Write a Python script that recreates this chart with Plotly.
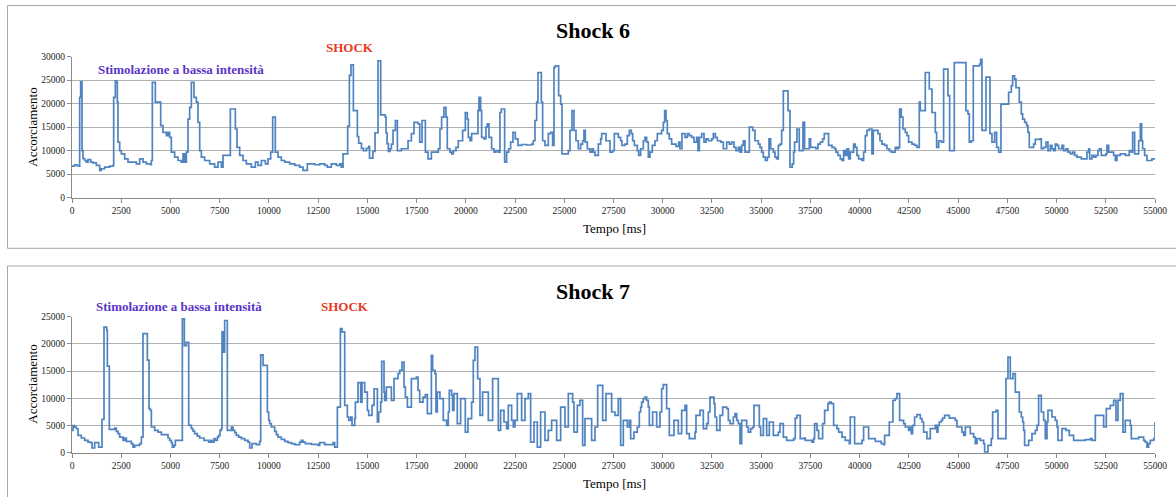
import plotly.graph_objects as go

# ---------------- data: Shock 6 (time in ms, shortening) ----------------
t6 = [0, 130, 250, 356, 389, 440, 508, 559, 643, 728,
      813, 948, 1067, 1236, 1405, 1490, 1659, 1913, 2083, 2116,
      2201, 2269, 2303, 2336, 2421, 2506, 2675, 2844, 3268, 3437,
      3606, 3776, 3995, 4030, 4080, 4233, 4504, 4622, 4791, 4876,
      4960, 5045, 5214, 5384, 5553, 5638, 5722, 5807, 5892, 5976,
      6061, 6196, 6315, 6400, 6484, 6569, 6738, 6992, 7246, 7416,
      7585, 7669, 8042, 8296, 8380, 8516, 8685, 8854, 9110, 9312,
      9447, 9616, 9820, 9955, 10090, 10192, 10327, 10463, 10632, 10801,
      11055, 11309, 11563, 11733, 11953, 12325, 12580, 12833, 12968, 13171,
      13425, 13595, 13679, 13764, 14000, 14086, 14170, 14289, 14492, 14560,
      14700, 14800, 14950, 15070, 15110, 15280, 15390, 15542, 15677, 15900,
      15948, 16000, 16067, 16150, 16220, 16304, 16423, 16524, 16727, 17066,
      17235, 17370, 17573, 17658, 17776, 17946, 18082, 18251,
      18602, 18687, 18772, 18890, 18992, 19059, 19195, 19279, 19364, 19500,
      19618, 19838, 19974, 20075, 20126, 20211, 20295, 20617, 20668, 20752,
      20803, 20922, 21023, 21091, 21176, 21311, 21430, 21531, 21650, 21734,
      21802, 21971, 22073, 22175, 22276, 22395, 22513, 22649, 22835, 23089,
      23343, 23427, 23512, 23597, 23664, 23834, 23901, 24020, 24189, 24308,
      24409, 24477, 24545, 24714, 24816, 24883, 25205, 25290, 25391, 25493,
      25594, 25713, 25831, 25933, 26000, 26068, 26170, 26305, 26407, 26475,
      26559, 26729, 26847, 26898, 27118, 27321, 27456, 27541, 27744, 27863,
      27930, 28083, 28201, 28303, 28405, 28472, 28557, 28709, 28777, 28879,
      29014, 29099, 29183, 29268, 29353, 29471, 29607, 29725, 29945, 30030,
      30098, 30166, 30233, 30335, 30453, 30673, 30809, 30876, 30978, 31130,
      31249, 31351, 31469, 31588, 31723, 31791, 31859, 31977, 32096, 32197,
      32316, 32485, 32570, 32672, 32773, 32942, 33077, 33247, 33382, 33501,
      33619, 33721, 33839, 33924, 34009, 34093, 34178, 34398, 34567, 34686,
      34855, 34940, 35024, 35109, 35211, 35312, 35397, 35481, 35617, 35702,
      35786, 35871, 35956, 36040, 36125, 36362, 36463, 36580, 36647,
      36697, 36816, 36934, 37121, 37205, 37442, 37510, 37781, 37883, 38001,
      38120, 38204, 38424, 38594, 38729, 38797, 38898, 39017, 39102, 39186,
      39271, 39355, 39440, 39525, 39694, 39779, 39863, 39948, 40117, 40202,
      40287, 40371, 40490, 40625, 40693, 40930, 41032, 41133, 41269, 41387,
      41506, 41607, 41810, 41895, 41980, 42030, 42115, 42200, 42318, 42403,
      42488, 42657, 42792, 42911, 43029, 43080, 43334, 43537, 43673, 43842,
      43910, 44011, 44147, 44265, 44485, 44570, 44807, 45399, 45501, 45569,
      45670, 45772, 46093, 46144, 46212, 46415, 46619, 46720, 46855, 46957,
      47058, 47177, 47566, 47702, 47770, 47871, 47939, 48108, 48210, 48278,
      48379, 48481, 48549, 48616, 48836, 48921, 49175, 49226, 49344, 49463,
      49564, 49683, 49768, 49852, 49937, 50022, 50106, 50275, 50360, 50479,
      50580, 50699, 50817, 50919, 51037, 51257, 51545, 51630, 51681, 51799,
      51901, 52002, 52104, 52172, 52273, 52510, 52561, 52646, 52900, 52985,
      53069, 53238, 53492, 53695, 53797, 53865, 53966, 54169, 54254, 54321,
      54372, 54474, 54592, 54846, 55000]

v6 = [6700, 7000, 6800, 6700, 21300, 24600, 10000, 8300, 7900, 7550,
      8100, 7550, 7400, 6850, 5800, 6150, 6500, 6700, 6850, 21300,
      24850, 24500, 20300, 11800, 10000, 9300, 8260, 7550, 7200, 8260,
      7550, 7200, 7000, 7900, 24500, 20300, 15300, 13900, 13200, 13900,
      12800, 9700, 8600, 7900, 7550, 9300, 7550, 9700, 16700, 19200,
      24500, 21300, 20300, 16000, 10000, 8600, 7900, 7200, 6500, 7550,
      6500, 9000, 18850, 14600, 10700, 9000, 7900, 7200, 6500, 7550,
      6850, 7900, 7200, 8260, 9700, 17100, 9700, 8600, 7900, 7550,
      7200, 6850, 6500, 5800, 7200, 7000, 7200, 6850, 6500, 7200,
      6850, 7200, 6500, 9300, 15200, 26000, 28200, 18500, 13000, 11600,
      10500, 10000, 10500, 10900, 8400, 9850, 13800, 29100, 17600, 17200,
      13800, 11500, 9850, 10400, 11400, 14300, 16400, 10000, 10400, 12100,
      13600, 16000, 15700, 11800, 16400, 9700, 8260, 9700,
      10400, 14600, 17100, 19200, 17100, 10400, 9700, 9300, 10000, 10700,
      12100, 14300, 18100, 16700, 12800, 12100, 13600, 18500, 21300, 18500,
      12800, 12500, 15000, 15700, 12800, 10400, 9700, 10000, 9700, 18100,
      18850, 7550, 9700, 10400, 11800, 13900, 12500, 11100, 11300, 11200,
      11400, 12100, 16400, 20300, 26600, 20300, 12100, 11100, 13600, 13900,
      11100, 27700, 28000, 21700, 19900, 9300, 10000, 14300, 18500, 14300,
      12100, 10400, 11400, 12100, 14300, 11800, 10400, 9700, 10400, 9700,
      9000, 11400, 12500, 13600, 12100, 9700, 10000, 13600, 12800, 12100,
      11100, 11400, 13200, 14300, 13600, 12100, 11100, 10000, 9000, 10400,
      12100, 12800, 11800, 8600, 9700, 11100, 12100, 13600, 14300, 16000,
      18500, 16400, 13600, 12500, 11400, 10900, 11800, 10400, 13600, 12800,
      13600, 13200, 12800, 11800, 12800, 10000, 12800, 13600, 11800, 12500,
      12100, 12500, 13600, 12800, 12100, 11800, 10400, 11800, 11400, 11800,
      10700, 10000, 10700, 9700, 11100, 12100, 9700, 15000, 14300, 12100,
      11400, 10700, 9700, 8600, 7900, 8600, 12500, 10400, 9700, 8600,
      8260, 11100, 11400, 14300, 22700, 18500, 6500, 7200, 9700,
      11800, 14600, 10000, 16000, 10400, 12500, 10700, 10400, 11400, 11800,
      12500, 13600, 11100, 10700, 10400, 9700, 9000, 8260, 7900, 10000,
      9000, 10400, 8260, 9700, 11400, 10700, 9000, 8260, 7900, 9700,
      13200, 14300, 14600, 9300, 14300, 13600, 12100, 11400, 11100, 10400,
      10000, 9700, 10700, 10400, 10700, 18850, 17100, 14600, 13900, 13200,
      11800, 11400, 11100, 10700, 20300, 18500, 26600, 23100, 18100, 13900,
      10700, 12100, 11800, 27300, 21700, 10000, 28700, 18500, 17800, 11800,
      12100, 28000, 28400, 29400, 14300, 25600, 13600, 11800, 13900, 10700,
      9700, 19900, 22400, 23800, 25900, 25200, 23400, 20300, 17800, 16700,
      16000, 15300, 13900, 10700, 11400, 12400, 12500, 10400, 10700, 11800,
      10000, 11100, 10400, 10000, 11400, 11100, 10400, 11100, 10000, 10400,
      9700, 9300, 9700, 9000, 8600, 8260, 9700, 10400, 8260, 9000,
      8600, 9000, 10000, 10400, 9000, 9300, 11100, 9700, 9000, 7900,
      9000, 9300, 9000, 10000, 9700, 13900, 9300, 12100, 15700, 12100,
      10400, 9000, 7900, 8260, 8260]

# ---------------- data: Shock 7 ----------------
t7 = [0, 51, 136, 220, 305, 474, 643, 813, 948, 1016,
      1151, 1355, 1524, 1625, 1761, 1795, 1896, 2167, 2252, 2337,
      2421, 2590, 2675, 2760, 3014, 3098, 3183, 3437, 3522, 3606,
      3826, 3911, 3979, 4030, 4199, 4368, 4537, 4876, 4960, 5045,
      5096, 5181, 5248, 5604, 5705, 5807, 5926, 6061, 6146, 6230,
      6366, 6484, 6704, 6941, 7043, 7111, 7212, 7280, 7382, 7449,
      7517, 7585, 7619, 7653, 7686, 7720, 7754, 7889, 8093, 8177,
      8262, 8346, 8465, 8600, 8770, 8939, 9024, 9142, 9362, 9532,
      9583, 9701, 9921, 9989, 10040, 10124, 10294, 10378, 10463, 10632,
      10801, 10970, 11140, 11309, 11563, 11648, 11733, 11851, 12156, 12495,
      12580, 12833, 13256, 13341, 13476, 13629, 13714, 13849, 13984, 14052,
      14153, 14221, 14357, 14391, 14526, 14661, 14729, 14865, 15000, 15068,
      15237, 15339, 15508, 15576, 15677, 15728, 15846, 15880, 15965, 16219,
      16355, 16558, 16642, 16761, 16862, 16930, 17032, 17235, 17489, 17573,
      17658, 17827, 17946, 18048, 18251,
      18314, 18433, 18484, 18551, 18687, 18856, 19026, 19110, 19161, 19279,
      19330, 19398, 19567, 19737, 19974, 20109, 20295, 20380, 20465, 20600,
      20719, 20854, 21142, 21362, 21650, 21768, 21938, 22073, 22158, 22328,
      22412, 22497, 22615, 22835, 23004, 23173, 23292, 23461, 23630, 23800,
      24020, 24189, 24358, 24612, 24816, 25036, 25205, 25425, 25493, 25662,
      25797, 25933, 26051, 26390, 26559, 26695, 26949, 27118, 27406, 27575,
      27744, 27863, 27998, 28201, 28303, 28371, 28540, 28709, 28811, 28879,
      28929, 29014, 29099, 29183, 29268, 29319, 29488, 29692, 29861, 29945,
      30030, 30199, 30335, 30572, 30792, 30961, 31130, 31215, 31351, 31639,
      31690, 31892, 32062, 32231, 32316, 32400, 32604, 32654, 32739, 32908,
      33044, 33247, 33331, 33416, 33585, 33670, 33755, 33839, 33924, 34009,
      34262, 34347, 34466, 34567, 34635, 34906, 34973, 35109, 35278, 35414,
      35617, 35871, 35956, 36125, 36294,
      36647, 36731, 36816, 36985, 37155, 37239, 37578, 37662, 37713, 37832,
      37916, 38120, 38221, 38390, 38458, 38560, 38678, 38848, 38932, 39102,
      39271, 39474, 39525, 39745, 40117, 40202, 40456, 40795, 41099, 41218,
      41269, 41506, 41692, 41810, 41895, 42030, 42233, 42318, 42488, 42572,
      42623, 42691, 42792, 42911, 43080, 43165, 43249, 43419, 43588, 43842,
      43927, 43977, 44045, 44147, 44214, 44316, 44553, 44773, 44858, 44942,
      45196, 45281, 45366, 45620, 45789, 45874, 45958, 46127, 46297, 46348,
      46517, 46686, 46754, 46923, 47025, 47431, 47533, 47651, 47787, 47906,
      48108, 48210, 48278, 48328, 48379, 48583, 48752, 48921, 49006, 49090,
      49226, 49344, 49429, 49514, 49564, 49768, 49937, 50022, 50072, 50275,
      50479, 50648, 50868, 51461, 51715, 51799, 51969, 52308, 52392, 52527,
      52730, 52900, 53019, 53120, 53238, 53374, 53492, 53746, 53797, 54169,
      54423, 54507, 54592, 54677, 54761, 54931, 55000]

v7 = [4100, 5000, 4700, 4400, 3200, 2700, 2270, 1960, 1840, 860,
      1840, 1040, 6130, 23100, 22500, 15900, 4300, 4530, 3920, 3490,
      2880, 2270, 2700, 2080, 1650, 1040, 1350, 1650, 2880, 21900,
      17000, 8090, 7780, 4720, 4100, 3800, 3310, 2700, 2270, 1840,
      1040, 1350, 2270, 24600, 19700, 20300, 5020, 4410, 3980, 3490,
      3060, 2700, 2270, 1960, 2270, 1960, 2570, 2270, 2880, 3190,
      4100, 4410, 22200, 18500, 22200, 18500, 24300, 4100, 4720, 4100,
      3680, 3190, 2880, 2570, 2270, 1960, 860, 1650, 1470, 2080,
      18000, 16050, 7480, 5940, 5330, 4720, 3920, 3310, 2880, 2450,
      2080, 1840, 1650, 1470, 1960, 2270, 1960, 1650, 1530, 1350,
      1840, 1470, 1840, 1040, 8390, 22800, 22200, 8700, 6560, 5940,
      6560, 5020, 6250, 9310, 12870, 9310, 12870, 11150, 7780, 6860,
      8700, 11760, 5640, 7480, 9310, 16790, 11150, 9620, 12070, 9620,
      13600, 14520, 15130, 16670, 12070, 10230, 8390, 13600, 13910, 11460,
      9310, 10230, 10660, 7170, 17890,
      15130, 14520, 7480, 11150, 9930, 5940, 5020, 7480, 11460, 10540,
      7780, 10850, 5330, 9930, 3800, 6250, 9310, 16970, 19420, 13600,
      6860, 11150, 5940, 13600, 4100, 7780, 5640, 4410, 8700, 5940,
      4720, 5940, 10850, 5940, 9930, 10850, 1960, 5640, 1040, 7480,
      2270, 4100, 5940, 2270, 8390, 4720, 10850, 9310, 3800, 8700,
      9620, 1350, 6250, 2270, 4720, 12380, 5940, 10850, 7480, 6860,
      9930, 1350, 5940, 4720, 5940, 2570, 3800, 4720, 7480, 8390,
      9310, 9930, 10230, 9620, 8390, 5020, 7480, 4720, 7480, 11760,
      12500, 8090, 3190, 5940, 3490, 7780, 8700, 3490, 2570, 3800,
      6860, 7780, 4410, 5330, 7480, 10230, 9010, 6560, 4100, 6860,
      8390, 8090, 5940, 5330, 6560, 7170, 5940, 5330, 1650, 5940,
      4720, 3800, 4410, 4720, 8700, 4720, 3190, 6250, 3190, 5640,
      3190, 3800, 5330, 2880, 2270,
      2570, 6370, 6860, 2570, 2700, 2270, 1960, 2570, 5330, 4100,
      2570, 5330, 7780, 9010, 9310, 9010, 5020, 4410, 3800, 2880,
      2270, 1650, 6560, 1650, 2270, 4720, 2570, 2080, 1650, 1470,
      3190, 5640, 9620, 9930, 10850, 5940, 5330, 4720, 4100, 4720,
      3490, 5020, 6560, 6990, 6250, 5640, 3800, 2570, 4410, 5020,
      3800, 5020, 5640, 5940, 6370, 6860, 6370, 6370, 5940, 4720,
      3800, 3190, 4720, 3490, 2880, 1650, 2570, 2270, 1650, 120,
      1350, 2570, 7480, 7780, 2570, 13600, 17580, 13600, 14520, 11150,
      7480, 6560, 5640, 4100, 1350, 2270, 3490, 4100, 5020, 10540,
      7480, 5940, 2570, 5640, 7780, 6560, 5940, 4720, 2270, 4410,
      4100, 3190, 2270, 2390, 2570, 2270, 6860, 6860, 4720, 8090,
      8700, 9620, 5940, 9620, 10850, 3800, 5940, 5020, 2570, 2880,
      2270, 1960, 1040, 1650, 2270, 2570, 5640]

x_range = [0, 55000]
y6_range = [0, 30000]
y7_range = [0, 25000]

titles = ["Shock 6", "Shock 7"]
label_stim = "Stimolazione a bassa intensità"
label_shock = "SHOCK"
x_title = "Tempo [ms]"
y_title = "Accorciamento"

# ---------------- styles ----------------
W, H = 1176, 497
BLUE = "#4f84c0"
GRID = "#b0b0b0"
AXIS = "#8a8a8a"
FRAME = "#a8a8a8"
PURPLE = "#5b35c8"
RED = "#e8391f"
SERIF = "Liberation Serif, Times New Roman, serif"


def px(x):
    return x / W


def py(y):
    return 1 - y / H


fig = go.Figure()
fig.add_trace(go.Scatter(x=t6, y=v6, mode="lines", xaxis="x", yaxis="y",
                         line=dict(color=BLUE, width=1.7, shape="hv"),
                         hoverinfo="skip"))
fig.add_trace(go.Scatter(x=t7, y=v7, mode="lines", xaxis="x2", yaxis="y2",
                         line=dict(color=BLUE, width=1.7, shape="hv"),
                         hoverinfo="skip"))

common_x = dict(range=x_range, tickmode="linear", tick0=0, dtick=2500,
                tickformat="d", showline=True, linecolor=AXIS, linewidth=1,
                ticks="outside", ticklen=4, tickcolor=AXIS, showgrid=False,
                zeroline=False, automargin=False,
                tickfont=dict(family=SERIF, size=9.5, color="#222222"),
                domain=[px(72), px(1155)])
common_y = dict(tickmode="linear", tick0=0, dtick=5000, tickformat="d",
                showline=True, linecolor=AXIS, linewidth=1, ticks="outside",
                ticklen=4, tickcolor=AXIS, showgrid=True, gridcolor=GRID,
                gridwidth=1, zeroline=False, automargin=False,
                tickfont=dict(family=SERIF, size=9.5, color="#222222"))

fig.update_layout(
    width=W, height=H, autosize=False,
    margin=dict(l=0, r=0, t=0, b=0, pad=0, autoexpand=False),
    paper_bgcolor="white", plot_bgcolor="white",
    showlegend=False,
    xaxis=dict(common_x, anchor="y"),
    yaxis=dict(common_y, range=y6_range, anchor="x",
               domain=[py(197.7), py(56.5)]),
    xaxis2=dict(common_x, anchor="y2"),
    yaxis2=dict(common_y, range=y7_range, anchor="x2",
                domain=[py(452.7), py(316.7)]),
)

# chart frames
fig.add_shape(type="rect", xref="paper", yref="paper",
              x0=px(7.5), x1=1.02, y0=py(248.3), y1=py(5.5),
              line=dict(color=FRAME, width=1), fillcolor="rgba(0,0,0,0)", layer="below")
fig.add_shape(type="rect", xref="paper", yref="paper",
              x0=px(7.5), x1=1.02, y0=-0.05, y1=py(266),
              line=dict(color=FRAME, width=1), fillcolor="rgba(0,0,0,0)", layer="below")

ann = []
# (text, x_px, y_px, size, color, bold, angle)
items = [
    (titles[0], 593, 30.7, 22, "black", True, 0),
    (label_stim, 180.5, 69, 13, PURPLE, True, 0),
    (label_shock, 350, 47.7, 13, RED, True, 0),
    (x_title, 614, 228, 13, "black", False, 0),
    (y_title, 31.7, 127, 13, "black", False, -90),
    (titles[1], 593, 291, 22, "black", True, 0),
    (label_stim, 179, 306.7, 13, PURPLE, True, 0),
    (label_shock, 345, 306.7, 13, RED, True, 0),
    (x_title, 614, 483, 13, "black", False, 0),
    (y_title, 31.7, 384, 13, "black", False, -90),
]
for text, x, y, size, color, bold, angle in items:
    ann.append(dict(text=f"<b>{text}</b>" if bold else text,
                    xref="paper", yref="paper", x=px(x), y=py(y),
                    xanchor="center", yanchor="middle", showarrow=False,
                    textangle=angle,
                    font=dict(family=SERIF, size=size, color=color)))
fig.update_layout(annotations=ann)

fig.write_html("out.html", config={"displayModeBar": False},
               post_script="document.body.style.margin='0';document.body.style.overflow='hidden';")
